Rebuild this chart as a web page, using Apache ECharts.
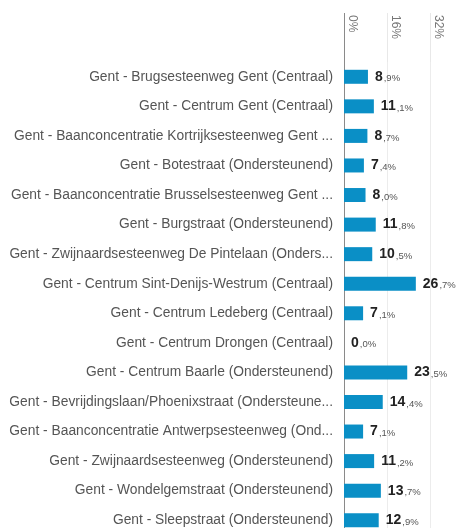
<!DOCTYPE html>
<html>
<head>
<meta charset="utf-8">
<script src="https://cdn.jsdelivr.net/npm/echarts@6/dist/echarts.min.js"></script>
<style>
  html, body { margin: 0; padding: 0; background: #fff; }
  #chart { width: 457px; height: 528px; }
</style>
</head>
<body>
<div id="chart"></div>
<script>
// categories (labels as shown, truncated ones included)
var locaties = [
  "Gent - Brugsesteenweg Gent (Centraal)",
  "Gent - Centrum Gent (Centraal)",
  "Gent - Baanconcentratie Kortrijksesteenweg Gent ...",
  "Gent - Botestraat (Ondersteunend)",
  "Gent - Baanconcentratie Brusselsesteenweg Gent ...",
  "Gent - Burgstraat (Ondersteunend)",
  "Gent - Zwijnaardsesteenweg De Pintelaan (Onders...",
  "Gent - Centrum Sint-Denijs-Westrum (Centraal)",
  "Gent - Centrum Ledeberg (Centraal)",
  "Gent - Centrum Drongen (Centraal)",
  "Gent - Centrum Baarle (Ondersteunend)",
  "Gent - Bevrijdingslaan/Phoenixstraat (Ondersteune...",
  "Gent - Baanconcentratie Antwerpsesteenweg (Ond...",
  "Gent - Zwijnaardsesteenweg (Ondersteunend)",
  "Gent - Wondelgemstraat (Ondersteunend)",
  "Gent - Sleepstraat (Ondersteunend)"
];
// percentages
var aandeel = [8.9, 11.1, 8.7, 7.4, 8.0, 11.8, 10.5, 26.7, 7.1, 0.0, 23.5, 14.4, 7.1, 11.2, 13.7, 12.9];
// x ticks
var xTicks = [0, 16, 32];

var myChart = echarts.init(document.getElementById("chart"));

myChart.setOption({
  animation: false,
  textStyle: { fontFamily: "Liberation Sans, Arial, sans-serif" },
  grid: { left: 344, width: 113, top: 62, height: 473, containLabel: false, outerBoundsMode: "none" },
  xAxis: [
    {
      type: "value",
      position: "top",
      min: 0,
      max: 42,
      interval: xTicks[1] - xTicks[0],
      axisLine: { show: false },
      axisTick: { show: true, length: 49, lineStyle: { color: "#e8e8e8" } },
      splitLine: { show: true, lineStyle: { color: "#ececec" } },
      axisLabel: {
        rotate: 90,
        margin: 47,
        align: "left",
        verticalAlign: "bottom",
        padding: [0, 0, 2, 0],
        color: "#777",
        fontSize: 12,
        showMaxLabel: false,
        formatter: function (v) { return xTicks.indexOf(v) >= 0 ? v + "%" : ""; }
      }
    },
    {
      // only draws the dark line above the 0 position
      type: "value",
      position: "top",
      min: 0,
      max: 42,
      interval: 42,
      axisLine: { show: false },
      axisTick: { show: true, length: 49, lineStyle: { color: "#8a8a8a" } },
      splitLine: { show: false },
      axisLabel: { show: false }
    }
  ],
  yAxis: {
    type: "category",
    inverse: true,
    data: locaties,
    axisLine: { show: true, lineStyle: { color: "#8a8a8a" } },
    axisTick: { show: false },
    axisLabel: { color: "#555", fontSize: 13.8, margin: 11 }
  },
  series: [
    {
      type: "bar",
      data: aandeel,
      barWidth: 14,
      itemStyle: { color: "#0a8fc6" },
      label: {
        show: true,
        position: "right",
        distance: 7,
        formatter: function (p) {
          var parts = p.value.toFixed(1).split(".");
          return "{a|" + parts[0] + "}{b|," + parts[1] + "%}";
        },
        rich: {
          a: { fontSize: 14, fontWeight: "bold", color: "#222", padding: [0, 1, 0, 0] },
          b: { fontSize: 9.5, color: "#555", verticalAlign: "bottom", padding: [4, 0, 0, 0] }
        }
      }
    }
  ]
});
</script>
</body>
</html>
